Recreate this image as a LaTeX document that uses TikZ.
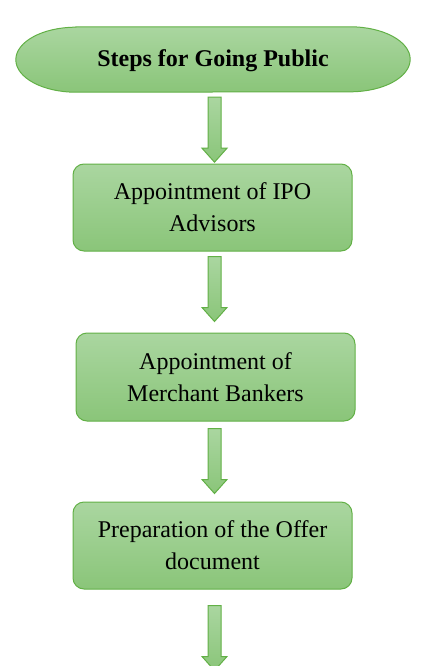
\documentclass[tikz,border=0pt]{standalone}
\usepackage{fontspec}
\setmainfont{Liberation Serif}
\usetikzlibrary{calc}
\definecolor{gtop}{RGB}{170,214,160}
\definecolor{gbot}{RGB}{138,197,121}
\definecolor{gline}{RGB}{98,176,70}
\begin{document}
\begin{tikzpicture}[x=1pt,y=-1pt,
  greenfill/.style={draw=gline, line width=1pt, top color=gtop, bottom color=gbot},
  stepbox/.style={greenfill, rectangle, rounded corners=11pt, minimum width=279pt, minimum height=87pt,
    align=center, font=\fontsize{24}{32}\selectfont, inner sep=0pt},
  flowarrow/.style={greenfill, line join=miter}]
\useasboundingbox (0,0) rectangle (422,666);
% title
\node[minimum width=394pt, minimum height=65pt, inner sep=0pt] (title) at (213,59.5) {};
\path[greenfill] ($(title.north west)+(60,0)$) -- ($(title.north east)+(-60,0)$)
  arc[start angle=90, end angle=-90, x radius=60pt, y radius=32.5pt]
  -- ($(title.south west)+(60,0)$)
  arc[start angle=270, end angle=90, x radius=60pt, y radius=32.5pt] -- cycle;
\node[font=\bfseries\fontsize{24}{32}\selectfont] at ($(title.center)+(0,1.5)$) {Steps for Going Public};
% boxes
\node[stepbox] (b1) at (212.5,207.5) {Appointment of IPO\\Advisors};
\node[stepbox, minimum height=88pt] (b2) at (215.5,377) {Appointment of\\Merchant Bankers};
\node[stepbox] (b3) at (212.5,545.5) {Preparation of the Offer\\document};
% arrow starts
\coordinate (a1) at ($(title.south)+(1.5,5)$);
\coordinate (a2) at ($(b1.south)+(2,5)$);
\coordinate (a3) at ($(b2.south)+(-1,7)$);
\coordinate (a4) at ($(b3.south)+(2,16)$);
\foreach \a in {a1,a2,a3,a4}{
  \draw[flowarrow] (\a) ++(-6.5,0) -- ++(13,0) -- ++(0,51) -- ++(6,0) -- ++(-12.5,14)
    -- ++(-12.5,-14) -- ++(6,0) -- cycle;
}
\end{tikzpicture}
\end{document}
